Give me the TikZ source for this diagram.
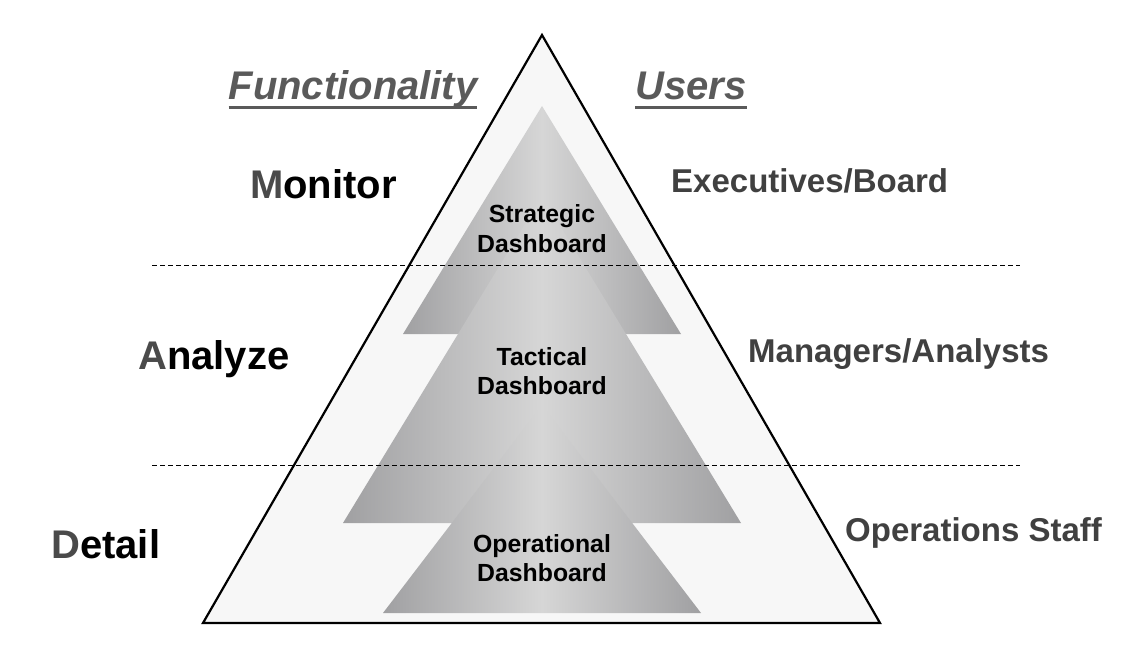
\documentclass[tikz,border=0pt]{standalone}
\usepackage{fontspec}
\setmainfont{Liberation Sans}
\definecolor{outerfill}{HTML}{F7F7F7}
\definecolor{headgray}{HTML}{5A5A5A}
\definecolor{labgray}{HTML}{404040}
\definecolor{initgray}{HTML}{4A4A4A}
\definecolor{tridark}{HTML}{A0A0A2}
\definecolor{trilight}{HTML}{D6D6D6}
\newcommand{\myul}[1]{\setbox0\hbox{#1}\rlap{\vrule width \wd0 height -6pt depth 9pt}\box0}
\tikzset{
  headtxt/.style={inner sep=0pt, anchor=base, text=headgray, font=\fontsize{40}{48}\selectfont\bfseries\itshape},
  functxt/.style={inner sep=0pt, anchor=base west, text=black, font=\fontsize{40}{48}\selectfont\bfseries},
  usertxt/.style={inner sep=0pt, anchor=base west, text=labgray, font=\fontsize{33}{40}\selectfont\bfseries},
  dashtxt/.style={inner sep=0pt, anchor=base, text=black, font=\fontsize{24.8}{29.4}\selectfont\bfseries},
  tierline/.style={line width=1pt, dash pattern=on 5pt off 3pt},
  tri/.style={left color=tridark, right color=tridark, middle color=trilight},
}
\begin{document}
\begin{tikzpicture}[x=1pt,y=-1pt]
\useasboundingbox[fill=white] (0,0) rectangle (1142,660);
% outer pyramid
\coordinate (oA) at (542,35);
\coordinate (oL) at (203,623);
\coordinate (oR) at (880,623);
\filldraw[fill=outerfill, draw=black, line width=2.2pt, line join=miter] (oA) -- (oL) -- (oR) -- cycle;
% inner triangles
\shade[tri] (542,106) -- (403,334) -- (681,334) -- cycle;
\shade[tri] (542,196) -- (343,523) -- (741,523) -- cycle;
\shade[tri] (542,405) -- (383,613) -- (701,613) -- cycle;
% tier lines
\coordinate (d1l) at (152,265); \coordinate (d1r) at (1020,265);
\coordinate (d2l) at (152,465); \coordinate (d2r) at (1020,465);
\draw[tierline] (d1l) -- (d1r);
\draw[tierline] (d2l) -- (d2r);
% headings
\node[headtxt] (func) at (353,100) {\myul{Functionality}};
\node[headtxt] (users) at (691,100) {\myul{Users}};
% functionality labels
\node[functxt] (mon) at (250,199) {\textcolor{initgray}{M}onitor};
\node[functxt] (ana) at (138,369) {\textcolor{initgray}{A}nalyze};
\node[functxt] (det) at (51,558) {\textcolor{initgray}{D}etail};
% user labels
\node[usertxt] (exe) at (671,193) {Executives/Board};
\node[usertxt] (man) at (748,362) {Managers/Analysts};
\node[usertxt] (ops) at (845,541) {Operations Staff};
% dashboard labels
\node[dashtxt] (str) at (542,223) {\begin{tabular}[t]{@{}c@{}}Strategic\\Dashboard\end{tabular}};
\node[dashtxt] (tac) at (542,365) {\begin{tabular}[t]{@{}c@{}}Tactical\\Dashboard\end{tabular}};
\node[dashtxt] (ope) at (542,552) {\begin{tabular}[t]{@{}c@{}}Operational\\Dashboard\end{tabular}};
\end{tikzpicture}
\end{document}
